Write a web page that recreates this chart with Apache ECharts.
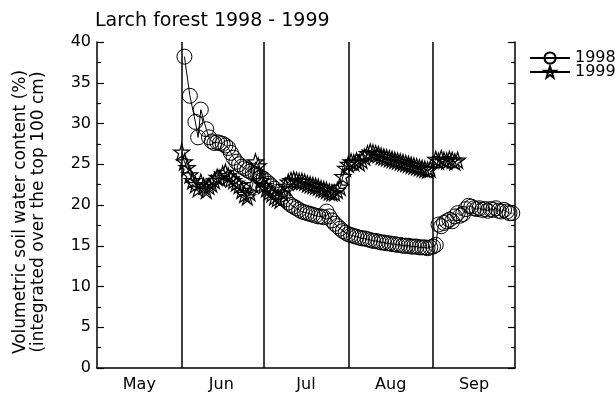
<!DOCTYPE html>
<html>
<head>
<meta charset="utf-8">
<script src="https://cdn.jsdelivr.net/npm/echarts@6/dist/echarts.min.js"></script>
<style>
	html, body { margin: 0; padding: 0; background: #fff; }
	#chart { width: 615px; height: 396px; }
</style>
</head>
<body>
<div id="chart"></div>
<script>
	// days counted from 1 May, values in % (soil water, top 100 cm)
	var monthNames = ['May', 'Jun', 'Jul', 'Aug', 'Sep'];
	var monthMid = [15.5, 45.5, 76.5, 107.5, 138];
	var monthStart = [31, 61, 92, 123];

	var days1998 = [32, 34, 36, 37, 38, 40,
		41, 42, 43, 44, 45, 46, 47, 48, 49, 50, 51, 52, 53, 54, 55, 56, 57, 58, 59, 60,
		61, 62, 63, 64, 65, 66, 67, 68, 69, 70, 71, 72, 73, 74, 75, 76, 77, 78, 79, 80,
		81, 82, 83, 84, 85, 86, 87, 88, 89, 90, 91,
		92, 93, 94, 95, 96, 97, 98, 99, 100, 101, 102, 103, 104, 105, 106, 107, 108, 109, 110, 111,
		112, 113, 114, 115, 116, 117, 118, 119, 120, 121, 122, 123, 124,
		125, 126, 127, 128, 129, 130, 131, 132, 133, 134, 135, 136, 137, 138, 139, 140,
		141, 142, 143, 144, 145, 146, 147, 148, 149, 150, 151, 152];
	var water1998 = [38.2, 33.4, 30.2, 28.3, 31.7, 29.3,
		28.3, 27.8, 27.6, 27.7, 27.6, 27.5, 27.3, 27.0, 26.4, 25.8, 25.3, 25.0, 24.7, 24.5, 24.3, 24.1, 23.9, 23.8, 23.6, 23.4,
		23.2, 22.9, 22.6, 22.3, 22.0, 21.6, 21.3, 21.0, 20.7, 20.3, 20.0, 19.8, 19.6, 19.4, 19.2, 19.1, 19.0, 18.9, 18.8, 18.7,
		18.6, 18.6, 18.5, 19.2, 18.6, 18.1, 17.7, 17.4, 17.1, 16.8, 16.6,
		16.4, 16.3, 16.2, 16.1, 16.0, 15.9, 15.9, 15.8, 15.7, 15.6, 15.6, 15.5, 15.4, 15.4, 15.3, 15.3, 15.2, 15.2, 15.1, 15.1,
		15.0, 15.0, 15.0, 14.9, 14.9, 14.9, 14.8, 14.8, 14.8, 14.7, 14.8, 14.9, 15.1,
		17.6, 17.4, 17.8, 18.0, 18.2, 18.0, 18.6, 19.0, 18.7, 18.9, 19.5, 19.9, 19.8, 19.6, 19.5, 19.6,
		19.4, 19.5, 19.3, 19.5, 19.4, 19.6, 19.3, 19.2, 19.4, 19.2, 19.0, 19.0];

	var days1999 = [31, 32, 33, 34, 35, 36, 37, 38, 39, 40, 41, 42, 43, 44, 45, 46, 47, 48, 49, 50,
		51, 52, 53, 54, 55, 56, 57, 58, 59, 60,
		61, 62, 63, 64, 65, 66, 67, 68, 69, 70, 71, 72, 73, 74, 75, 76, 77, 78, 79, 80,
		81, 82, 83, 84, 85, 86, 87, 88, 89, 90, 91,
		92, 93, 94, 95, 96, 97, 98, 99, 100, 101, 102, 103, 104, 105, 106, 107, 108, 109, 110, 111,
		112, 113, 114, 115, 116, 117, 118, 119, 120, 121, 122,
		124, 125, 126, 127, 128, 129, 130, 131, 132];
	var water1999 = [26.5, 25.3, 24.6, 23.7, 23.0, 22.5, 22.0, 22.8, 22.3, 21.8, 22.3, 22.6, 23.0, 23.4, 23.3, 23.8, 24.0, 23.6, 23.2, 23.0,
		22.7, 22.4, 21.8, 21.3, 21.0, 21.5, 22.5, 25.3, 24.8, 23.0,
		22.4, 22.0, 21.6, 21.4, 21.0, 20.8, 20.6, 21.5, 22.3, 22.8, 23.0, 23.1, 23.0, 22.9, 22.9, 22.8, 22.6, 22.5, 22.4, 22.3,
		22.2, 22.0, 21.9, 21.8, 21.6, 21.5, 21.5, 21.8, 22.2, 23.5, 24.5,
		25.0, 25.3, 25.2, 25.4, 25.2, 25.5, 25.9, 26.3, 26.5, 26.4, 26.3, 26.2, 26.0, 25.9, 25.8, 25.7, 25.6, 25.5, 25.4, 25.3,
		25.2, 25.1, 25.0, 24.9, 24.8, 24.7, 24.6, 24.5, 24.4, 24.3, 24.4,
		25.6, 25.4, 25.7, 25.5, 25.4, 25.6, 25.5, 25.3, 25.5];

	var STAR = 'path://M50,2 L61,36 L97,36 L68,57 L79,92 L50,71 L21,92 L32,57 L3,36 L39,36 Z';
	var FONT = 'DejaVu Sans';

	function pairs(days, vals) {
		var out = [];
		for (var i = 0; i < days.length; i++) {
			out.push([days[i], vals[i]]);
		}
		return out;
	}

	var monthLines = [];
	for (var m = 0; m < monthStart.length; m++) {
		monthLines.push({ xAxis: monthStart[m] });
	}

	var yTicks = {
		axisLine: { show: true, lineStyle: { color: '#000', width: 1.5 } },
		axisTick: { show: true, inside: true, length: 7, lineStyle: { color: '#000', width: 1.2 } },
		minorTick: { show: true, splitNumber: 2, length: 4, lineStyle: { color: '#000', width: 1.2 } },
		splitLine: { show: false }
	};

	var myChart = echarts.init(document.getElementById('chart'), null, { renderer: 'canvas' });
	var option = {
		animation: false,
		backgroundColor: '#fff',
		title: {
			text: 'Larch forest 1998 - 1999',
			left: 90, top: 7,
			textStyle: { fontFamily: FONT, fontSize: 19, fontWeight: 'normal', color: '#000' }
		},
		legend: {
			orient: 'vertical',
			left: 524, top: 45,
			itemWidth: 40, itemHeight: 14, itemGap: -2,
			textStyle: { fontFamily: FONT, fontSize: 16, color: '#000' },
			data: ['1998', '1999']
		},
		grid: { left: 97, right: 100, top: 42, bottom: 28, containLabel: false },
		xAxis: {
			type: 'value', min: 0, max: 153,
			axisLine: { show: true, lineStyle: { color: '#000', width: 1.5 } },
			axisTick: { show: false },
			splitLine: { show: false },
			axisLabel: {
				customValues: monthMid,
				margin: 9,
				fontFamily: FONT, fontSize: 16, color: '#000',
				formatter: function (v) {
					return monthNames[monthMid.indexOf(v)];
				}
			}
		},
		yAxis: [
			echarts.util.merge({
				type: 'value', min: 0, max: 40, interval: 5, position: 'left',
				name: 'Volumetric soil water content (%)\n(integrated over the top 100 cm)',
				nameLocation: 'middle', nameGap: 49,
				nameTextStyle: { fontFamily: FONT, fontSize: 17, lineHeight: 18, color: '#000', padding: [0, 0, 0, -14] },
				axisLabel: { fontFamily: FONT, fontSize: 16, color: '#000', margin: 6 }
			}, yTicks),
			echarts.util.merge({
				type: 'value', min: 0, max: 40, interval: 5, position: 'right',
				axisLabel: { show: false }
			}, yTicks)
		],
		series: [
			{
				name: '1998', type: 'line',
				data: pairs(days1998, water1998),
				symbol: 'circle', symbolSize: 15,
				lineStyle: { color: '#000', width: 1 },
				itemStyle: { color: 'rgba(255,255,255,0)', borderColor: '#000', borderWidth: 1 },
				z: 3,
				markLine: {
					silent: true, symbol: 'none',
					label: { show: false },
					lineStyle: { color: '#000', width: 1.5, type: 'solid' },
					data: monthLines
				}
			},
			{
				name: '1999', type: 'line',
				data: pairs(days1999, water1999),
				symbol: STAR, symbolSize: 16,
				lineStyle: { color: '#000', width: 1 },
				itemStyle: { color: 'rgba(255,255,255,0)', borderColor: '#000', borderWidth: 1.2 },
				z: 2
			}
		]
	};
	myChart.setOption(option);
</script>
</body>
</html>
